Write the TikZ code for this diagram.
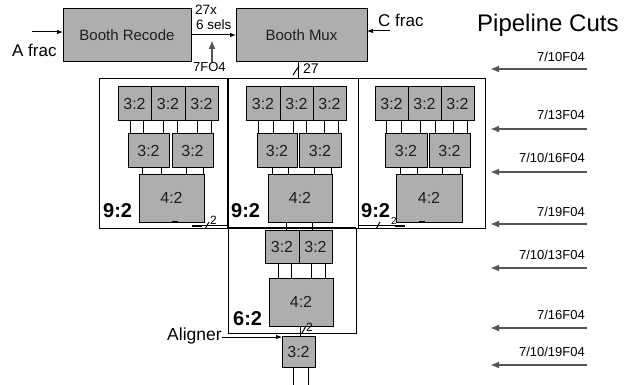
\documentclass[tikz,border=0pt]{standalone}
\usepackage{fontspec}
\setmainfont{Liberation Sans}
\usetikzlibrary{arrows.meta}
\definecolor{boxgray}{RGB}{174,174,174}
\definecolor{cutgray}{RGB}{85,85,85}
\definecolor{txtgray}{RGB}{30,30,30}
\newcommand\fsz[1]{\fontsize{#1pt}{#1pt}\selectfont}
\newcommand\mybox[7][blk]{%
  \pgfmathsetmacro\mbcx{(#3+#5)/2}%
  \pgfmathsetmacro\mbcy{(#4+#6)/2}%
  \pgfmathsetmacro\mbw{#5-#3}%
  \pgfmathsetmacro\mbh{#6-#4}%
  \node[#1,minimum width=\mbw pt,minimum height=\mbh pt] (#2) at (\mbcx,\mbcy) {#7};}
\newcommand\wv[3]{\draw[wire] (#1.south -| #3,0) -- (#2.north -| #3,0);}
\newcommand\pcut[4]{%
  \coordinate (cs#1) at (587,#2);
  \coordinate (ce#1) at (490,#2);
  \draw[cut] (cs#1) -- (ce#1);
  \node[cutlbl] (cl#1) at (585,#3) {#4};}
\tikzset{
  blk/.style={draw=black, fill=boxgray, line width=1pt, inner sep=0pt, outer sep=0pt, text=txtgray, font=\fsz{16}},
  bigblk/.style={blk, font=\fsz{15}},
  cont/.style={draw=black, line width=1pt, inner sep=0pt, outer sep=0pt},
  wire/.style={draw=black, line width=1pt},
  thickwire/.style={draw=black, line width=2.2pt},
  cut/.style={draw=cutgray, line width=2pt, -{Latex[length=9pt,width=7pt]}},
  cutlbl/.style={inner sep=0pt, anchor=base east, font=\fsz{13}},
  lbl/.style={inner sep=0pt, anchor=base west},
  ratio/.style={lbl, font=\bfseries\fsz{20}},
}
\begin{document}
\begin{tikzpicture}[x=1pt,y=-1pt]
\useasboundingbox (0,0) rectangle (629,385);

% top row
\mybox[bigblk]{recode}{63}{9}{191}{62}{Booth Recode}
\mybox[bigblk]{mux}{236}{9}{367}{62}{Booth Mux}
\node[lbl, font=\fsz{17}] (afrac) at (12,57) {A frac};
\coordinate (ain) at (32,32);
\draw[wire,-{Latex[length=6pt,width=4.5pt]}] (ain) -- (recode.west |- ain);
\node[lbl, font=\fsz{17}] (cfrac) at (378,27) {C frac};
\coordinate (cin) at (390,31);
\draw[wire,-{Latex[length=6pt,width=4.5pt]}] (cin) -- (mux.east |- cin);
\draw[wire,-{Latex[length=6pt,width=4.5pt]}] (recode.east |- 0,35) -- (mux.west |- 0,35);
\node[lbl, font=\fsz{13.5}] (sx) at (195,15) {27x};
\node[lbl, font=\fsz{13.5}] (sels) at (196,30) {6 sels};
\node[lbl, font=\fsz{13}] (fo4) at (193,72) {7FO4};
\coordinate (fo4b) at (212,62);
\coordinate (fo4t) at (212,40);
\draw[draw=cutgray, line width=2pt, -{Latex[length=9pt,width=7pt]}] (fo4b) -- (fo4t);

% containers
\mybox[cont]{c1}{99}{79}{228}{228}{}
\mybox[cont]{c2}{228}{79}{358}{228}{}
\mybox[cont]{c3}{358}{79}{485}{228}{}
\mybox[cont]{c4}{228}{228}{356}{333}{}
\draw[thickwire] (c1.north east) -- (c1.south east);
\draw[thickwire] (c4.north west) -- (c4.north east);

% mux to tree
\draw[wire] (mux.south -| 298,0) -- (c2.north -| 298,0);
\draw[wire] (293,75) -- (299,66);
\node[lbl, font=\fsz{14}] (w27) at (303,74) {27};

% box 1
\mybox{a1}{118}{87}{151}{121}{3:2}
\mybox{a2}{151}{87}{185}{121}{3:2}
\mybox{a3}{185}{87}{218}{121}{3:2}
\mybox{b1}{128}{134}{169}{167}{3:2}
\mybox{b2}{172}{134}{213}{167}{3:2}
\mybox{k1}{139}{174}{204}{222}{4:2}
\wv{a1}{b1}{130}\wv{a1}{b1}{143}\wv{a2}{b1}{163}
\wv{a2}{b2}{177}\wv{a3}{b2}{197}\wv{a3}{b2}{211}
\wv{b1}{k1}{142}\wv{b1}{k1}{161}\wv{b2}{k1}{186}\wv{b2}{k1}{203}
\node[ratio] (r1) at (103,217) {9:2};
\draw[line width=2pt] (k1.south -| 172,0) -- (k1.south -| 178,0);

% box 2
\mybox{d1}{246}{87}{280}{121}{3:2}
\mybox{d2}{280}{87}{313}{121}{3:2}
\mybox{d3}{313}{87}{346}{121}{3:2}
\mybox{e1}{257}{134}{297}{167}{3:2}
\mybox{e2}{299}{134}{341}{167}{3:2}
\mybox{m1}{268}{174}{332}{222}{4:2}
\wv{d1}{e1}{258}\wv{d1}{e1}{273}\wv{d2}{e1}{293}
\wv{d2}{e2}{306}\wv{d3}{e2}{324}\wv{d3}{e2}{338}
\wv{e1}{m1}{272}\wv{e1}{m1}{288}\wv{e2}{m1}{314}\wv{e2}{m1}{331}
\node[ratio] (r2) at (231,217) {9:2};

% box 3
\mybox{f1}{375}{87}{408}{121}{3:2}
\mybox{f2}{408}{87}{441}{121}{3:2}
\mybox{f3}{441}{87}{474}{121}{3:2}
\mybox{g1}{385}{134}{427}{167}{3:2}
\mybox{g2}{429}{134}{470}{167}{3:2}
\mybox{n1}{396}{174}{462}{222}{4:2}
\wv{f1}{g1}{386}\wv{f1}{g1}{401}\wv{f2}{g1}{420}
\wv{f2}{g2}{435}\wv{f3}{g2}{453}\wv{f3}{g2}{467}
\wv{g1}{n1}{400}\wv{g1}{n1}{417}\wv{g2}{n1}{442}\wv{g2}{n1}{460}
\node[ratio] (r3) at (361,217) {9:2};
\draw[line width=2pt] (n1.south -| 419,0) -- (n1.south -| 425,0);

% outputs of side trees
\coordinate (o1) at (202,225.5);
\draw[line width=2pt] (192,225.5) -- (o1);
\draw[wire] (o1) -- (c1.south east |- o1);
\draw[wire] (205,229) -- (209,222);
\node[lbl, font=\fsz{12}] (two1) at (210,224) {2};
\coordinate (o3) at (395,225.5);
\draw[line width=2pt] (o3) -- (405,225.5);
\draw[wire] (o3) -- (c3.south west |- o3);
\draw[wire] (376,229) -- (380,222);
\node[lbl, font=\fsz{10}] (two3) at (391,224) {2};

% 6:2
\mybox{h1}{265}{230}{299}{263}{3:2}
\mybox{h2}{299}{230}{332}{263}{3:2}
\mybox{p1}{269}{278}{333}{326}{4:2}
\wv{m1}{h1}{286}\wv{m1}{h2}{312}
\wv{h1}{p1}{278}\wv{h1}{p1}{291}\wv{h2}{p1}{311}\wv{h2}{p1}{325}
\node[ratio] (r4) at (233,325) {6:2};

% final
\mybox{q1}{282}{336}{315}{367}{3:2}
\wv{p1}{q1}{300}
\draw[wire] (302,333) -- (306,326);
\node[lbl, font=\fsz{12}] (two4) at (306,331) {2};
\coordinate (fo1) at (293,385);
\coordinate (fo2) at (308,385);
\draw[wire] (q1.south -| fo1) -- (fo1);
\draw[wire] (q1.south -| fo2) -- (fo2);
\node[lbl, font=\fsz{17.5}] (al) at (167,340) {Aligner};
\draw[wire,-{Latex[length=6pt,width=4.5pt]}] (al.east |- 0,337) -- (q1.west |- 0,337);

% pipeline cuts
\node[lbl, font=\fsz{24}] (pc) at (477,32) {Pipeline Cuts};
\pcut{1}{69}{62}{7/10F04}
\pcut{2}{129}{120}{7/13F04}
\pcut{3}{172}{162}{7/10/16F04}
\pcut{4}{224}{216}{7/19F04}
\pcut{5}{268}{259}{7/10/13F04}
\pcut{6}{328}{319}{7/16F04}
\pcut{7}{365}{356}{7/10/19F04}
\end{tikzpicture}
\end{document}
